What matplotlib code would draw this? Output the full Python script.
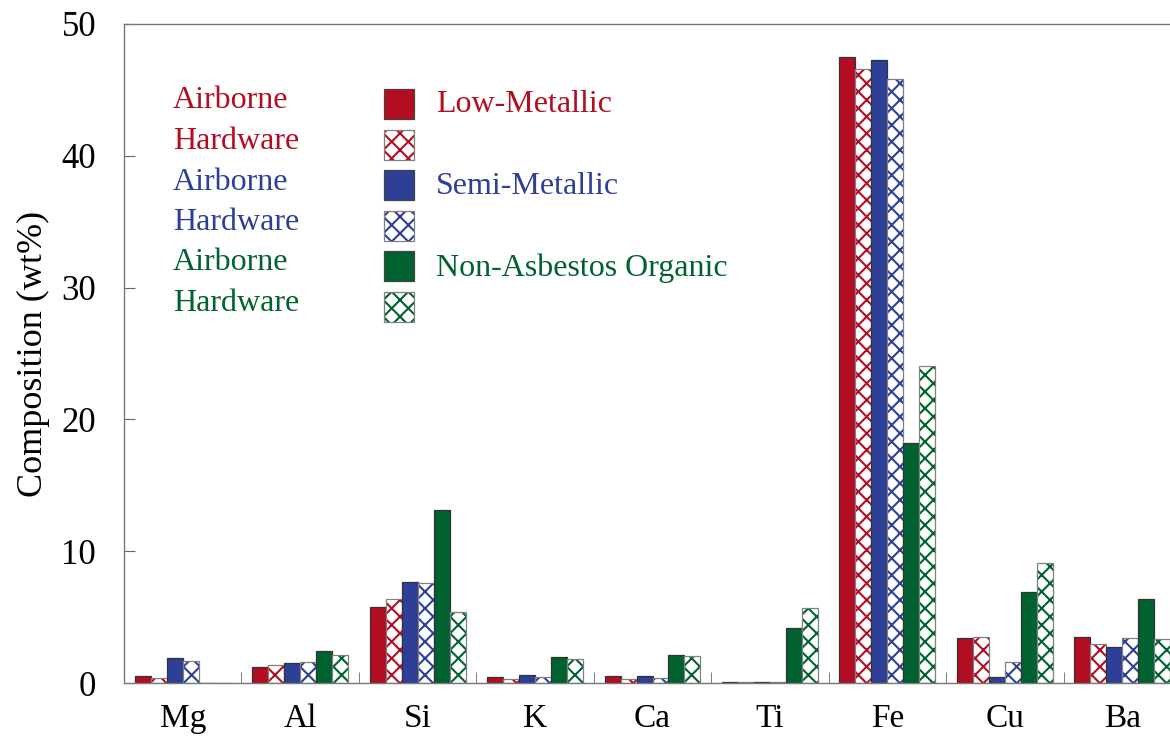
import matplotlib
matplotlib.use("Agg")
import matplotlib.pyplot as plt
from matplotlib.patches import Rectangle
import numpy as np

plt.rcParams['font.family'] = ['Liberation Serif', 'DejaVu Serif']
plt.rcParams['hatch.linewidth'] = 1.5

elements = ['Mg', 'Al', 'Si', 'K', 'Ca', 'Ti', 'Fe', 'Cu', 'Ba']

# airborne / hardware composition (wt%) for each pad type
lm_air = [0.5, 1.2, 5.8, 0.45, 0.5, 0.05, 47.5, 3.4, 3.5]
lm_hw = [0.4, 1.35, 6.4, 0.3, 0.3, 0.05, 46.6, 3.5, 2.95]
sm_air = [1.9, 1.5, 7.7, 0.6, 0.5, 0.08, 47.3, 0.45, 2.75]
sm_hw = [1.65, 1.6, 7.55, 0.45, 0.35, 0.1, 45.8, 1.6, 3.4]
nao_air = [0.0, 2.4, 13.1, 2.0, 2.1, 4.2, 18.2, 6.9, 6.4]
nao_hw = [0.0, 2.1, 5.4, 1.8, 2.05, 5.7, 24.05, 9.1, 3.35]

red = '#b30d22'
blue = '#2e3f98'
green = '#00622f'

series = [(lm_air, red, False), (lm_hw, red, True),
          (sm_air, blue, False), (sm_hw, blue, True),
          (nao_air, green, False), (nao_hw, green, True)]

W, H = 1170, 744
fig = plt.figure(figsize=(W / 100, H / 100), dpi=100)
ax = fig.add_axes([124 / W, 61 / H, 1057 / W, 659 / H])

x = np.arange(len(elements))
bw = 0.136
for i, (vals, c, hatched) in enumerate(series):
    pos = x + (i - 2.5) * bw
    if hatched:
        ax.bar(pos, vals, bw, color='white', edgecolor=c, hatch='xx', linewidth=0)
        ax.bar(pos, vals, bw, fill=False, edgecolor='#808080', linewidth=0.9)
    else:
        ax.bar(pos, vals, bw, color=c, edgecolor='#333333', linewidth=0.9)

ax.set_xlim(-0.5, len(elements) - 0.5)
ax.set_ylim(0, 50)
ax.set_yticks([0, 10, 20, 30, 40, 50])
ax.set_xticks(x)
ax.set_xticklabels(elements)
ax.set_xticks(x[:-1] + 0.5, minor=True)
ax.tick_params(axis='x', which='major', length=0, pad=15, labelsize=24)
ax.tick_params(axis='x', which='minor', direction='in', length=8, color='#666666')
ax.tick_params(axis='y', direction='in', length=8, pad=20, labelsize=25, color='#666666')
for s in ax.spines.values():
    s.set_color('#777777')
    s.set_linewidth(1.0)
ax.set_ylabel('Composition (wt%)', fontsize=26, labelpad=8)


def fx(px):
    return px / W


def fy(py):
    return 1 - py / H


# hand-made legend
labels = ['Airborne', 'Hardware'] * 3
for k, (vals, c, hatched) in enumerate(series):
    yc = 104 + k * 40.5
    fig.text(fx(173), fy(yc - 3), labels[k], color=c, fontsize=23, va='center', ha='left')
    if hatched:
        fig.add_artist(Rectangle((fx(384), fy(yc + 15)), 30 / W, 30 / H, transform=fig.transFigure,
                                 facecolor='white', edgecolor=c, hatch='xx', linewidth=0))
        fig.add_artist(Rectangle((fx(384), fy(yc + 15)), 30 / W, 30 / H, transform=fig.transFigure,
                                 fill=False, edgecolor='#808080', linewidth=0.9))
    else:
        fig.add_artist(Rectangle((fx(384), fy(yc + 15)), 30 / W, 30 / H, transform=fig.transFigure,
                                 facecolor=c, edgecolor='#444444', linewidth=0.9))

fig.text(fx(436), fy(105), 'Low-Metallic', color=red, fontsize=23, va='center')
fig.text(fx(436), fy(187), 'Semi-Metallic', color=blue, fontsize=23, va='center')
fig.text(fx(436), fy(268), 'Non-Asbestos Organic', color=green, fontsize=23, va='center')

fig.savefig('out.png', dpi=100)
